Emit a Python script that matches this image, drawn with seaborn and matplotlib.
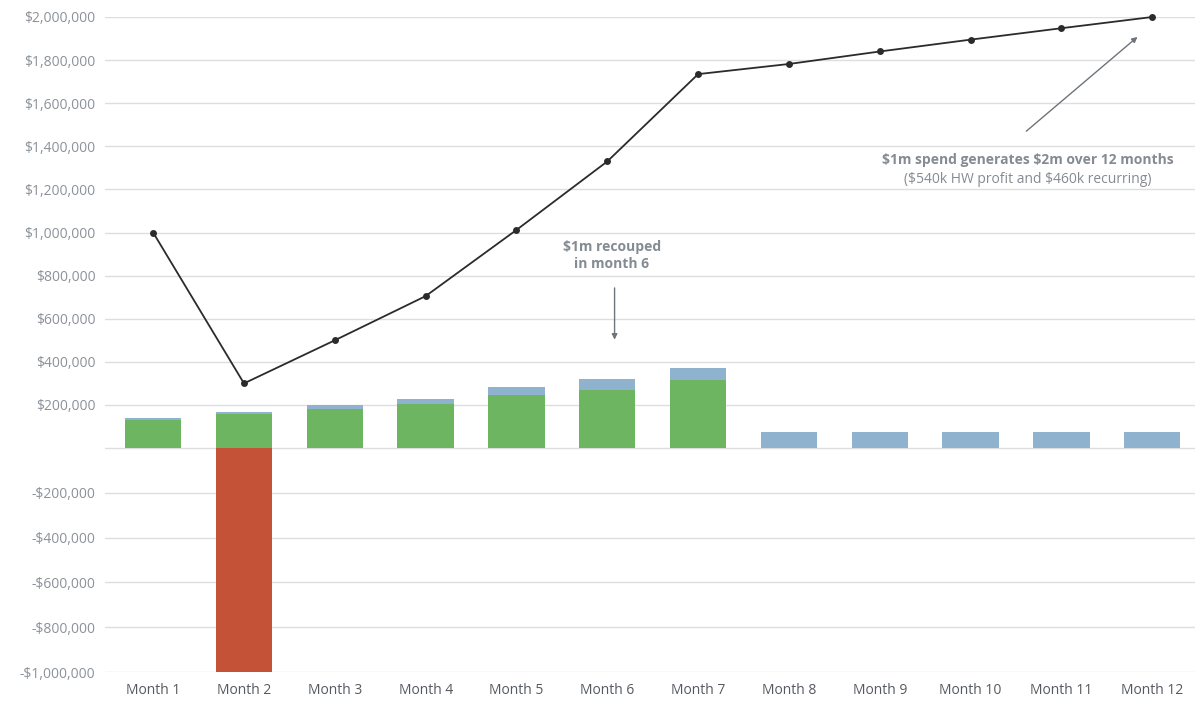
import numpy as np
import pandas as pd
import matplotlib
matplotlib.use("Agg")
import matplotlib.pyplot as plt
import seaborn as sns

months = ["Month 1", "Month 2", "Month 3", "Month 4", "Month 5", "Month 6",
          "Month 7", "Month 8", "Month 9", "Month 10", "Month 11", "Month 12"]
hw_profit = [130000, 158000, 180000, 204000, 246000, 269000, 317000, 0, 0, 0, 0, 0]
recurring = [8000, 10000, 20000, 24000, 36000, 50000, 53000, 74000, 74000, 74000, 74000, 74000]
spend = [0, -1000000, 0, 0, 0, 0, 0, 0, 0, 0, 0, 0]
cumulative = [1000000, 300000, 500000, 705000, 1012000, 1330000, 1735000,
              1782000, 1840000, 1895000, 1948000, 2000000]
tick_values = [2000000, 1800000, 1600000, 1400000, 1200000, 1000000, 800000, 600000,
               400000, 200000, 0, -200000, -400000, -600000, -800000, -1000000]

df = pd.DataFrame({"month": months, "hw": hw_profit, "rec": recurring, "spend": spend})
df["total"] = df["hw"] + df["rec"]

sns.set_style("white")
plt.rcParams["font.family"] = ["Open Sans", "DejaVu Sans"]
plt.rcParams["text.parse_math"] = False

green = "#6db560"
blue = "#8fb3cf"
red = "#c45236"
label_grey = "#8c9299"
note_grey = "#858b92"

fig = plt.figure(figsize=(11.95, 7.06), dpi=100)
ax = fig.add_axes([105 / 1195, 1 - 672 / 706, 1 - 105 / 1195, (672 - 17) / 706])

# negative part of the axis is drawn a little taller in the original
k = 1.039
ax.set_yscale("function", functions=(lambda y: np.where(y < 0, y * k, y),
                                     lambda y: np.where(y < 0, y / k, y)))

# stacked bars: total (blue) behind, green on top of it
sns.barplot(data=df, x="month", y="total", color=blue, width=0.62, saturation=1, linewidth=0, ax=ax)
sns.barplot(data=df, x="month", y="hw", color=green, width=0.62, saturation=1, linewidth=0, ax=ax)
sns.barplot(data=df, x="month", y="spend", color=red, width=0.62, saturation=1, linewidth=0, ax=ax)

sns.lineplot(x=np.arange(len(months)), y=cumulative, color="#2b2b2b", lw=1.3,
             marker="o", markersize=5, markeredgewidth=0, ax=ax, clip_on=False)

ax.set_ylim(-1000000, 2000000)
ax.set_xlim(-0.53, 11.47)
ax.set_yticks(tick_values)
ax.set_yticklabels(["" if v == 0 else ("-$" if v < 0 else "$") + f"{abs(v):,}" for v in tick_values])
ax.yaxis.grid(True, color="#dedede", lw=1)
ax.set_axisbelow(True)
sns.despine(ax=ax, left=True, bottom=True)
ax.tick_params(axis="both", length=0)
ax.tick_params(axis="y", labelsize=10, labelcolor=label_grey, pad=7)
ax.tick_params(axis="x", labelsize=10, labelcolor="#555a61", pad=8)
ax.set_xlabel("")
ax.set_ylabel("")

# annotations
ax.text(5.05, 895000, "$1m recouped\nin month 6", ha="center", va="center",
        fontsize=10, fontweight="bold", color=note_grey, linespacing=1.3)
ax.annotate("", xy=(5.08, 490000), xytext=(5.08, 756000),
            arrowprops=dict(arrowstyle="-|>", color="#6f747a", lw=1, mutation_scale=8))

ax.text(9.63, 1336000, "$1m spend generates $2m over 12 months", ha="center", va="center",
        fontsize=10, fontweight="bold", color=note_grey)
ax.text(9.63, 1248000, "($540k HW profit and $460k recurring)", ha="center", va="center",
        fontsize=10, color=note_grey)
ax.annotate("", xy=(10.86, 1916000), xytext=(9.59, 1462000),
            arrowprops=dict(arrowstyle="-|>", color="#6f747a", lw=1, mutation_scale=8))

fig.savefig("out.png", dpi=100)
